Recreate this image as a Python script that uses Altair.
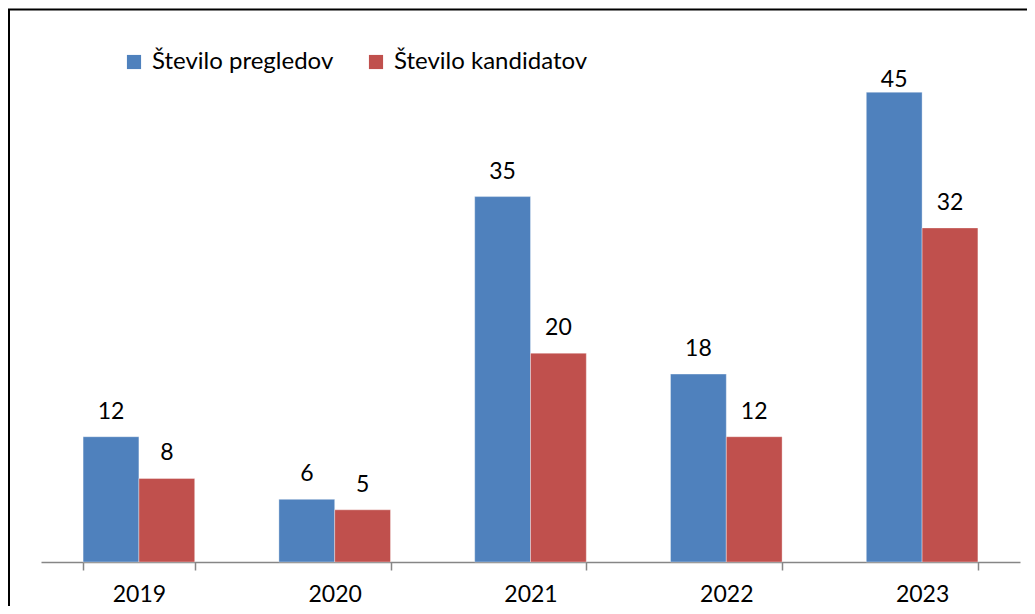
import altair as alt
import pandas as pd

years = ["2019", "2020", "2021", "2022", "2023"]
pregledov = [12, 6, 35, 18, 45]
kandidatov = [8, 5, 20, 12, 32]
series = ["Število pregledov", "Število kandidatov"]
colors = ["#4F81BD", "#C0504D"]

rows = []
for i, y in enumerate(years):
    rows.append({"leto": y, "serija": series[0], "vrednost": pregledov[i]})
    rows.append({"leto": y, "serija": series[1], "vrednost": kandidatov[i]})
df = pd.DataFrame(rows)

FONT = "Lato"

x = alt.X("leto:N", title=None, sort=years,
          scale=alt.Scale(paddingInner=0.43, paddingOuter=0.215),
          axis=alt.Axis(labelAngle=0, labelFontSize=23, labelFont=FONT, labelColor="black",
                        domainColor="#868686", domainWidth=1.5, tickColor="#868686", tickWidth=1.5,
                        tickSize=8, tickBand="extent", labelPadding=13, grid=False))
y = alt.Y("vrednost:Q", title=None, scale=alt.Scale(domain=[0, 50], nice=False),
          axis=None)
xo = alt.XOffset("serija:N", sort=series)

bars = alt.Chart(df).mark_bar(stroke="#ffffff", strokeWidth=0.6, strokeOpacity=0.6).encode(
    x=x, y=y, xOffset=xo,
    color=alt.Color("serija:N", sort=series,
                    scale=alt.Scale(domain=series, range=colors),
                    legend=alt.Legend(title=None, orient="none", legendX=81, legendY=10,
                                      direction="horizontal", symbolType="square",
                                      symbolSize=200, symbolStrokeWidth=0,
                                      labelFontSize=24, labelFont=FONT, labelColor="black",
                                      columnPadding=30, labelOffset=6, labelLimit=400)),
)

labels = alt.Chart(df).mark_text(baseline="alphabetic", dy=-18, fontSize=23, font=FONT, color="black").encode(
    x=x, y=y, xOffset=xo, text="vrednost:Q",
).transform_filter(alt.datum.vrednost < 45)

labels_top = alt.Chart(df).mark_text(baseline="alphabetic", dy=-5, fontSize=23, font=FONT, color="black").encode(
    x=x, y=y, xOffset=xo, text="vrednost:Q",
).transform_filter(alt.datum.vrednost >= 45)

frame = alt.Chart(df).mark_rect(fill=None, stroke="black", strokeWidth=2).encode(
    x=alt.value(-32), x2=alt.value(1060), y=alt.value(-30.5), y2=alt.value(640)
).transform_filter(alt.datum.leto == "2019").transform_filter(alt.datum.serija == series[0])

chart = alt.layer(bars, labels, labels_top, frame).properties(
    width=979, height=522,
    autosize=alt.AutoSizeParams(type="none"),
    padding={"left": 33, "top": 32, "right": 7, "bottom": 44},
).configure_view(stroke=None)

chart.save("out.html", embed_options={"renderer": "svg", "actions": False})
